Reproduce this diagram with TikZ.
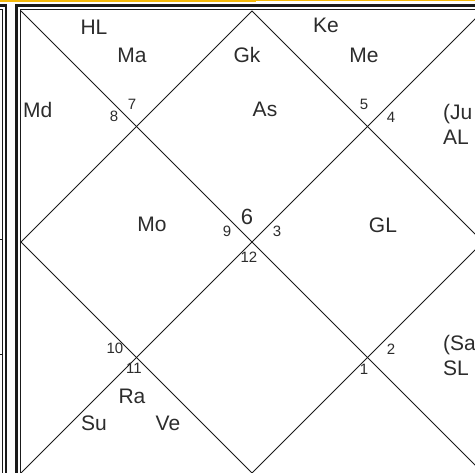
\documentclass[tikz,border=0pt]{standalone}
\usepackage{fontspec}
\setmainfont{Liberation Sans}
\definecolor{ink}{HTML}{2C2C2C}
\definecolor{rule}{HTML}{1A1A1A}
\definecolor{tab}{RGB}{245,185,10}
\begin{document}
\begin{tikzpicture}[x=1pt,y=-1pt,
  planet/.style={anchor=base,inner sep=0pt,text=ink,font=\fontsize{21}{21}\selectfont},
  planetL/.style={anchor=base west,inner sep=0pt,text=ink,font=\fontsize{21}{21}\selectfont},
  hnum/.style={anchor=base,inner sep=0pt,text=ink,font=\fontsize{15}{15}\selectfont},
  bignum/.style={anchor=base,inner sep=0pt,text=ink,font=\fontsize{22}{22}\selectfont},
  thinline/.style={draw=rule,line width=1pt},
  frameout/.style={draw=rule,line width=2.2pt},
  framein/.style={draw=rule,line width=1.4pt}]
\useasboundingbox (0,0) rectangle (475,473);
\clip (0,0) rectangle (475,473);
\fill[white] (0,0) rectangle (475,473);
% yellow tab edge
\draw[tab,line width=2pt] (0,1.3) -- (255,1.3) -- (255,0);
\draw[tab,line width=0.8pt] (255,0.4) -- (475,0.4);
% left neighbouring panel
\draw[frameout] (0,5.5) -- (6,5.5) -- (6,473);
\draw[framein] (0,9.5) -- (2.5,9.5) -- (2.5,473);
\draw[draw=rule,line width=1pt] (0,240) -- (2.5,240);
\draw[draw=rule,line width=1pt] (0,355) -- (2.5,355);
% chart frame
\draw[frameout] (16.5,5.5) rectangle (488.5,478.5);
\draw[framein] (20.5,9.5) rectangle (484.5,474.5);
% chart corners and mid points
\coordinate (TL) at (21,11);
\coordinate (TR) at (483,11);
\coordinate (BL) at (21,473);
\coordinate (BR) at (483,473);
\coordinate (T) at (252,11);
\coordinate (R) at (483,242);
\coordinate (B) at (252,473);
\coordinate (L) at (21,242);
\draw[thinline] (TL) -- (BR);
\draw[thinline] (TR) -- (BL);
\draw[thinline] (T) -- (R) -- (B) -- (L) -- cycle;
% planets
\node[planet] (hl) at (94,35) {HL};
\node[planet] (ma) at (132,63) {Ma};
\node[planetL] (md) at (23,118) {Md};
\node[planet] (gk) at (247,63) {Gk};
\node[planet] (as) at (265,117) {As};
\node[planet] (ke) at (326,33) {Ke};
\node[planet] (me) at (364,63) {Me};
\node[planetL] (ju) at (443,120) {(Ju};
\node[planetL] (al) at (443,145) {AL};
\node[planet] (mo) at (152,232) {Mo};
\node[planet] (gl) at (383,233) {GL};
\node[planet] (ra) at (132,404) {Ra};
\node[planet] (su) at (94,431) {Su};
\node[planet] (ve) at (168,431) {Ve};
\node[planetL] (sa) at (443,351) {(Sa};
\node[planetL] (sl) at (443,376) {SL};
% house numbers
\node[hnum] (h8) at (114,122) {8};
\node[hnum] (h7) at (132,110) {7};
\node[hnum] (h5) at (364,110) {5};
\node[hnum] (h4) at (391,123) {4};
\node[bignum] (h6) at (247,225) {6};
\node[hnum] (h9) at (227,237) {9};
\node[hnum] (h3) at (277,237) {3};
\node[hnum] (h12) at (249,263) {12};
\node[hnum] (h10) at (115,354) {10};
\node[hnum] (h11) at (134,374) {11};
\node[hnum] (h2) at (391,355) {2};
\node[hnum] (h1) at (364,375) {1};
\end{tikzpicture}
\end{document}
